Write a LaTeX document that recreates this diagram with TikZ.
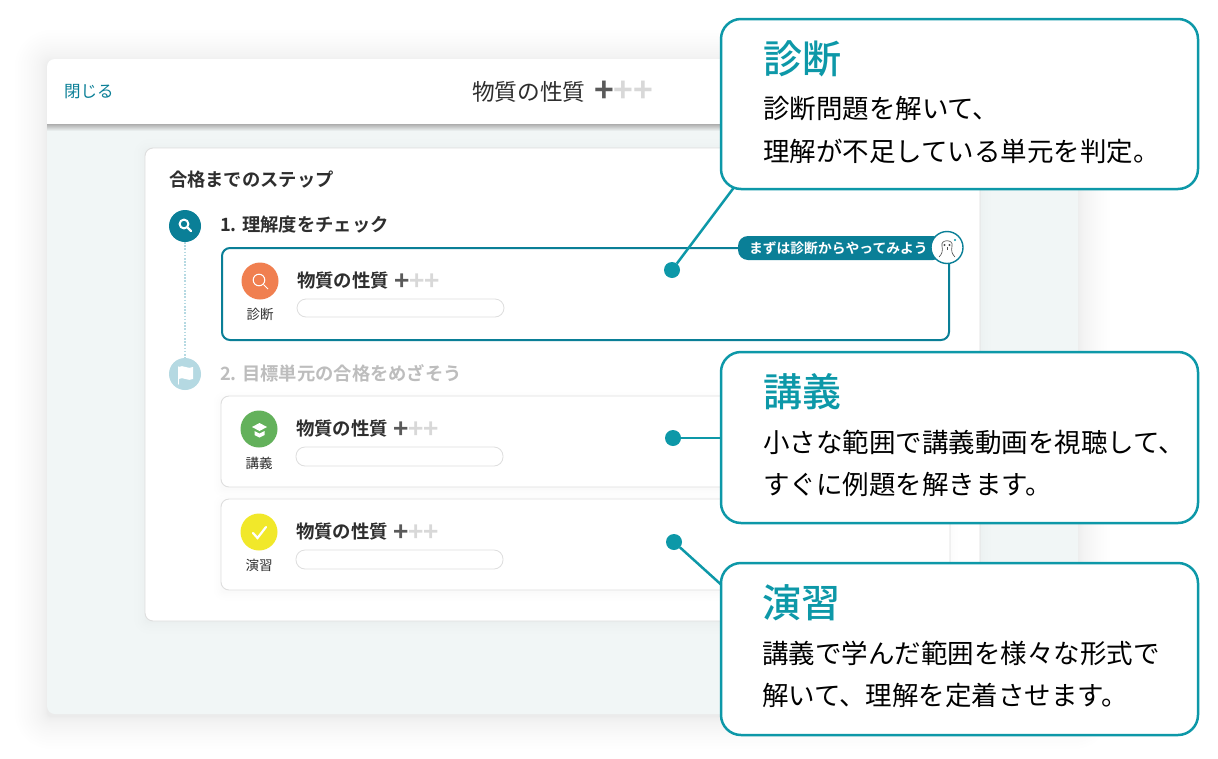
\documentclass[tikz,border=0pt]{standalone}
\usepackage{fontspec}
\setmainfont[BoldFont={Noto Sans CJK JP Medium}]{Noto Sans CJK JP}
\newfontfamily\heavycjk{Noto Sans CJK JP Bold}
\usetikzlibrary{calc}
\definecolor{callteal}{HTML}{0D98A8}
\definecolor{stepteal}{HTML}{0A7F97}
\definecolor{steplight}{HTML}{B5D9E2}
\definecolor{panelbg}{HTML}{F1F6F6}
\definecolor{inktext}{HTML}{2E2E2E}
\definecolor{mutetext}{HTML}{BDBDBD}
\definecolor{plusdark}{HTML}{5A5A5A}
\definecolor{pluslight}{HTML}{D8D8D8}
\definecolor{cardline}{HTML}{DEDEDE}
\definecolor{discorange}{HTML}{F07F50}
\definecolor{discgreen}{HTML}{63B15B}
\definecolor{discyellow}{HTML}{F1E82A}
\tikzset{
  x=1pt, y=-1pt,
  outer sep=0pt,
  lbl/.style={inner sep=0pt, anchor=west, text=inktext},
  calloutbox/.style={draw=callteal, line width=2.5pt, fill=white, rounded corners=20pt},
  calltitle/.style={lbl, text=callteal, font=\fontsize{39}{42}\selectfont\bfseries},
  callbody/.style={lbl, text=black, font=\fontsize{26.5}{30}\selectfont},
  calldot/.style={circle, fill=callteal, inner sep=0pt, minimum size=16pt},
  callline/.style={draw=callteal, line width=2.5pt},
  unitbar/.style={draw=cardline, line width=0.8pt, fill=white, rounded corners=9pt},
  unitcard/.style={draw=cardline, line width=0.9pt, fill=white, rounded corners=8pt},
  unittitle/.style={lbl, font=\fontsize{18.4}{20}\selectfont\heavycjk},
  unitplus/.style={lbl, font=\fontsize{26}{26}\selectfont\heavycjk},
  unitname/.style={inner sep=0pt, text=inktext, font=\fontsize{13.5}{15}\selectfont},
  unitdisc/.style={circle, inner sep=0pt, minimum size=37pt},
  stepdisc/.style={circle, inner sep=0pt, minimum size=32pt},
  steptitle/.style={lbl, font=\fontsize{18.3}{20}\selectfont\heavycjk},
  iconline/.style={draw=white, line width=1.6pt, line cap=round},
  faceline/.style={draw=black!70, line width=0.6pt},
}
\newcommand{\plusses}{\textcolor{plusdark}{+}\textcolor{pluslight}{++}}
% soft shadow: rounded box grown in faint layers, packed near the edge
\newcommand{\softshadow}[7]{%
  \foreach \i in {1,...,#6} {
    \pgfmathsetmacro{\grow}{\i*\i*#7}
    \fill[black, opacity=0.005, rounded corners=\grow*1pt+4pt]
      (#1-\grow,#2-\grow+#5) rectangle (#3+\grow,#4+\grow+#5);
  }
}
\begin{document}
\begin{tikzpicture}
  \useasboundingbox (0,0) rectangle (1218,758);
  \fill[white] (0,0) rectangle (1218,758);
  % app window
  \softshadow{47}{59}{1078}{714}{3}{20}{0.08}
  \fill[panelbg, rounded corners=8pt] (47,59) rectangle (1078,714);
  \shade[top color=black!32, bottom color=panelbg] (47,124) rectangle (1078,131);
  \fill[white, rounded corners=8pt] (47,59) rectangle (1078,90);
  \fill[white] (47,80) rectangle (1078,124);
  \node (closelink) [lbl, text=stepteal, font=\fontsize{16.5}{18}\selectfont] at (64,92) {閉じる};
  \node (apptitle) [lbl, text=inktext, font=\fontsize{22.7}{24}\selectfont] at (472,92) {物質の性質};
  \node (appplus) [lbl, font=\fontsize{33.5}{34}\selectfont\heavycjk] at (594,92) {\plusses};
  % step card
  \softshadow{145}{148}{980}{621}{2}{6}{0.3}
  \node (stepcard) [draw=cardline, line width=0.9pt, fill=white, rounded corners=8pt, inner sep=0pt, minimum width=835pt, minimum height=473pt, anchor=north west] at (145,148) {};
  \node (cardhead) [steptitle] at (169,180) {合格までのステップ};
  % steps
  \node (stepone) [stepdisc, fill=stepteal] at (185,226) {};
  \node (steptwo) [stepdisc, fill=steplight] at (185,374) {};
  \draw[steplight, line width=2.4pt, dash pattern=on 1.6pt off 1.6pt] (stepone) -- (steptwo);
  \draw[iconline, line width=2pt] (184,224) circle (4.4pt);
  \draw[iconline, line width=2.2pt] (187.5,227.5) -- (191,231);
  \fill[white] (178.5,367) .. controls (183,364) and (188,370) .. (193,367) -- (193,379)
    .. controls (188,382) and (183,376) .. (178.5,379) -- cycle;
  \draw[iconline, line width=1.2pt] (178.5,367) -- (178.5,384);
  \node (steponelbl) [steptitle] at (220,225) {1. 理解度をチェック};
  \node (steptwolbl) [steptitle, text=mutetext] at (220,373) {2. 目標単元の合格をめざそう};
  % unit cards
  \softshadow{221}{396}{950}{487}{3}{5}{0.3}
  \softshadow{221}{499}{950}{590}{3}{5}{0.3}
  \node (unitone) [draw=stepteal, line width=2pt, fill=white, rounded corners=8pt, inner sep=0pt, minimum width=727pt, minimum height=92pt, anchor=north west] at (222,248) {};
  \node (unittwo) [unitcard, inner sep=0pt, minimum width=729pt, minimum height=91pt, anchor=north west] at (221,396) {};
  \node (unitthree) [unitcard, inner sep=0pt, minimum width=729pt, minimum height=91pt, anchor=north west] at (221,499) {};
  % unit 1
  \node (discone) [unitdisc, fill=discorange] at (260,281) {};
  \draw[white, line width=1pt] (259,280) circle (5.8pt);
  \draw[white, line width=1pt] (263.5,284.5) -- (268,289);
  \node (nameone) [unitname] at (260,314) {診断};
  \node (titleone) [unittitle] at (297,281) {物質の性質};
  \node (plusone) [unitplus] at (394,282) {\plusses};
  \draw[unitbar] (297,299) rectangle (504,317);
  % unit 2
  \node (disctwo) [unitdisc, fill=discgreen] at (259,429) {};
  \fill[white] (259.5,423) -- (267,427) -- (259.5,431) -- (252,427) -- cycle;
  \fill[white] (254.5,431) -- (259.5,433.5) -- (264.5,431) -- (264.5,435) -- (259.5,437.5) -- (254.5,435) -- cycle;
  \node (nametwo) [unitname] at (259,463) {講義};
  \node (titletwo) [unittitle] at (296,429) {物質の性質};
  \node (plustwo) [unitplus] at (393,430) {\plusses};
  \draw[unitbar] (296,447) rectangle (503,466);
  % unit 3
  \node (discthree) [unitdisc, fill=discyellow] at (259,532) {};
  \draw[iconline, line width=2.2pt] (253,533) -- (257.5,538) -- (266,527);
  \node (namethree) [unitname] at (259,565) {演習};
  \node (titlethree) [unittitle] at (296,532) {物質の性質};
  \node (plusthree) [unitplus] at (393,533) {\plusses};
  \draw[unitbar] (296,550) rectangle (503,569);
  % hint pill
  \node (hintpill) [fill=stepteal, rounded corners=10pt, inner sep=0pt, minimum width=205pt, minimum height=24pt, anchor=north west] at (738,236) {};
  \node (hinttext) [lbl, text=white, font=\fontsize{13.8}{15}\selectfont\heavycjk] at (749,248) {まずは診断からやってみよう};
  \node (hintface) [circle, draw=stepteal, line width=1.4pt, fill=white, inner sep=0pt, minimum size=32pt] at (947,247.5) {};
  \draw[faceline] (942,246) .. controls (940,239) and (954,239) .. (952,246);
  \draw[faceline] (942,246) .. controls (943,251) and (942,254) .. (939,257);
  \draw[faceline] (952,246) .. controls (951,251) and (952,254) .. (955,257);
  \draw[faceline] (944.5,245) circle (0.7pt) (949.5,245) circle (0.7pt);
  \draw[faceline] (947,247) -- (947,250);
  \fill[callteal] (955,240) circle (1.2pt);
  % callouts
  \node (dotone) [calldot] at (672,270) {};
  \node (dottwo) [calldot] at (673,438) {};
  \node (dotthree) [calldot] at (674,542) {};
  \coordinate (footone) at (735,186);
  \coordinate (foottwo) at (725,438);
  \coordinate (footthree) at (726,589);
  \draw[callline] (dotone) -- (footone);
  \draw[callline] (dottwo) -- (foottwo);
  \draw[callline] (dotthree) -- (footthree);
  \node (calldiag) [calloutbox, inner sep=0pt, minimum width=477pt, minimum height=170pt, anchor=north west] at (721,19) {};
  \node (calllect) [calloutbox, inner sep=0pt, minimum width=477pt, minimum height=171pt, anchor=north west] at (721,352) {};
  \node (callprac) [calloutbox, inner sep=0pt, minimum width=477pt, minimum height=172pt, anchor=north west] at (721,563) {};
  \node (diaghead) [calltitle] at (763,59) {診断};
  \node (diagone) [callbody] at (763,108.5) {診断問題を解いて、};
  \node (diagtwo) [callbody] at (763,151) {理解が不足している単元を判定。};
  \node (lecthead) [calltitle] at (763,392) {講義};
  \node (lectone) [callbody] at (763,442) {小さな範囲で講義動画を視聴して、};
  \node (lecttwo) [callbody] at (763,484) {すぐに例題を解きます。};
  \node (prachead) [calltitle] at (762,603) {演習};
  \node (pracone) [callbody] at (762,653) {講義で学んだ範囲を様々な形式で};
  \node (practwo) [callbody] at (762,695) {解いて、理解を定着させます。};
\end{tikzpicture}
\end{document}
